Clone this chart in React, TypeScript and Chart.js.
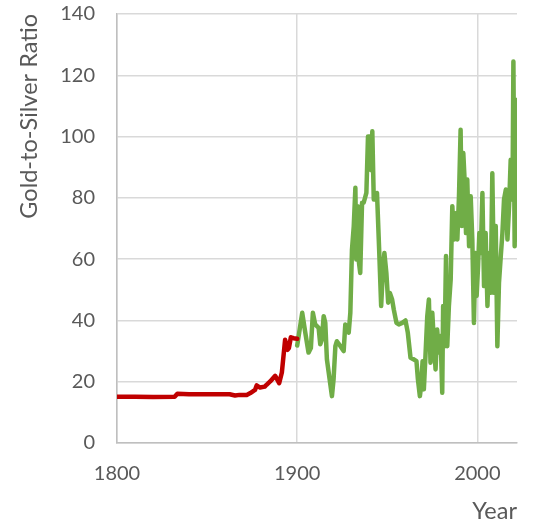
import React, { useEffect, useRef } from "react";
import { Chart, registerables } from "chart.js";

Chart.register(...registerables);

const xTickValues = [1800, 1900, 2000];
const yTickMax = 140;

const redYears = [1800, 1810, 1820, 1832, 1833.5, 1840, 1850, 1862.5, 1865.5, 1868, 1872, 1874, 1876.6, 1877.5, 1879.4, 1882, 1883, 1885, 1887.8, 1888.7, 1890, 1891.5, 1893.3, 1894.6, 1895.4, 1896.5, 1898, 1900];
const redValues = [15.1, 15.1, 15.0, 15.1, 16.1, 15.9, 15.9, 15.9, 15.5, 15.7, 15.7, 16.3, 17.3, 18.8, 18.1, 18.4, 19.0, 20.1, 21.9, 21.0, 19.5, 23.0, 33.7, 30.4, 31.0, 34.5, 34.2, 34.0];

const greenYears = [1900, 1902.8, 1904.5, 1906.3, 1907.6, 1908.7, 1910, 1911.9, 1912.8, 1913.7, 1914.7, 1915.6, 1916.5, 1918, 1919.3, 1920.2, 1921.2, 1922, 1924, 1925.8, 1926.7, 1928.6, 1929.5, 1930.4, 1931.4, 1932.3, 1932.8, 1933.6, 1934.3, 1935, 1936, 1936.9, 1938.4, 1939.3, 1940.2, 1941, 1941.7, 1942.5, 1943.6, 1944.3, 1945.5, 1946.6, 1947.7, 1948.4, 1949.5, 1950.5, 1951.4, 1952.7, 1953.6, 1955.1, 1956.4, 1958.3, 1960.1, 1961.4, 1962.9, 1964.7, 1966.2, 1967, 1968.1, 1968.8, 1969.6, 1970.3, 1971.2, 1972.2, 1973.1, 1974, 1975, 1975.9, 1976.8, 1977.7, 1978.7, 1979.6, 1980.5, 1981, 1981.8, 1982.6, 1983.3, 1984.2, 1985.2, 1986.1, 1987, 1988, 1988.9, 1989.8, 1990.7, 1991.4, 1992.2, 1993.1, 1993.7, 1994.4, 1995.4, 1996.3, 1997.2, 1998.1, 1998.9, 1999.6, 2000.4, 2001.1, 2001.9, 2002.8, 2003.7, 2004.6, 2005.6, 2006.5, 2007.4, 2008.3, 2009.3, 2010.2, 2011.1, 2012, 2013, 2013.9, 2014.8, 2015.8, 2016.7, 2017.6, 2018.5, 2019.5, 2020, 2020.7, 2021.3, 2021.8, 2022.3];
const greenValues = [31.8, 42.5, 36.0, 29.5, 31.0, 42.5, 38.7, 37.6, 32.2, 33.8, 41.4, 39.2, 27.3, 20.8, 15.3, 20.8, 31.6, 33.2, 31.6, 30.0, 38.7, 36.0, 42.5, 63.0, 70.8, 83.3, 59.9, 77.3, 58.8, 55.5, 78.4, 78.4, 81.6, 100.0, 100.0, 89.0, 101.7, 79.5, 79.5, 81.6, 63.0, 44.7, 57.7, 62.0, 55.5, 45.8, 49.0, 46.8, 43.6, 39.2, 38.7, 39.2, 40.0, 36.0, 27.8, 27.3, 26.7, 20.8, 15.3, 18.6, 26.7, 17.5, 28.4, 41.4, 46.8, 26.2, 42.5, 32.7, 24.0, 37.0, 29.5, 34.9, 16.4, 44.7, 31.6, 61.0, 31.6, 44.7, 53.4, 77.3, 66.4, 75.0, 66.4, 80.5, 102.2, 70.8, 94.6, 83.7, 68.5, 86.0, 64.2, 80.5, 66.4, 39.2, 62.0, 48.0, 57.7, 68.5, 62.0, 81.6, 51.2, 68.5, 44.7, 62.0, 49.0, 88.0, 49.0, 70.8, 31.6, 52.3, 61.0, 68.5, 79.5, 82.7, 66.4, 77.3, 92.4, 79.5, 124.5, 64.2, 112.0, 66.4, 81.6];

const textColor = "#595959";
const fontFamily = "Lato, 'Open Sans', sans-serif";
const tickFontSize = 20;
const titleFontSize = 23.5;

export default function App() {
  const canvasRef = useRef<HTMLCanvasElement | null>(null);

  useEffect(() => {
    document.body.style.margin = "0";
    const canvas = canvasRef.current;
    if (!canvas) return;
    const chart = new Chart(canvas, {
      type: "line",
      data: {
        datasets: [
          {
            label: "Red",
            data: redYears.map((x, i) => ({ x, y: redValues[i] })),
            borderColor: "#c00000",
            backgroundColor: "#c00000",
            borderWidth: 4.5,
            pointRadius: 0,
            tension: 0,
            borderJoinStyle: "round",
            borderCapStyle: "round",
          },
          {
            label: "Green",
            data: greenYears.map((x, i) => ({ x, y: greenValues[i] })),
            borderColor: "#70ad47",
            backgroundColor: "#70ad47",
            borderWidth: 4.5,
            pointRadius: 0,
            tension: 0,
            borderJoinStyle: "round",
            borderCapStyle: "round",
          },
        ],
      },
      options: {
        animation: false,
        responsive: true,
        maintainAspectRatio: false,
        layout: { padding: { left: 0, right: 28, top: 14, bottom: 0 } },
        plugins: {
          legend: { display: false },
          tooltip: { enabled: false },
        },
        scales: {
          x: {
            type: "linear",
            min: 1800,
            max: 2022,
            afterBuildTicks: (scale: any) => {
              scale.ticks = xTickValues.map((v) => ({ value: v }));
            },
            afterFit: (scale: any) => {
              scale.height = 86;
            },
            ticks: {
              color: textColor,
              font: { family: fontFamily, size: tickFontSize },
              padding: 19,
              maxRotation: 0,
              callback: (v: any) => String(v),
            },
            grid: { color: "#d9d9d9", lineWidth: 1.5, drawTicks: false },
            border: { color: "#bfbfbf", width: 1.5 },
            title: {
              display: true,
              text: "Year",
              align: "end",
              color: textColor,
              font: { family: fontFamily, size: titleFontSize },
              padding: { top: 0, bottom: 3 },
            },
          },
          y: {
            type: "linear",
            min: 0,
            max: yTickMax,
            afterFit: (scale: any) => {
              scale.width = 117;
            },
            ticks: {
              stepSize: 20,
              color: textColor,
              font: { family: fontFamily, size: tickFontSize },
              padding: 0,
              callback: (v: any) => String(v),
            },
            grid: {
              color: "#d9d9d9",
              lineWidth: 1.5,
              drawTicks: true,
              tickLength: 22,
              tickColor: "rgba(0,0,0,0)",
            },
            border: { color: "#bfbfbf", width: 1.5 },
            title: {
              display: true,
              text: "Gold-to-Silver Ratio",
              align: "end",
              color: textColor,
              font: { family: fontFamily, size: titleFontSize },
              padding: { top: 15, bottom: 0 },
            },
          },
        },
      },
    });
    return () => chart.destroy();
  }, []);

  return (
    <div style={{ width: 545, height: 529, position: "relative" }}>
      <canvas ref={canvasRef} />
    </div>
  );
}
